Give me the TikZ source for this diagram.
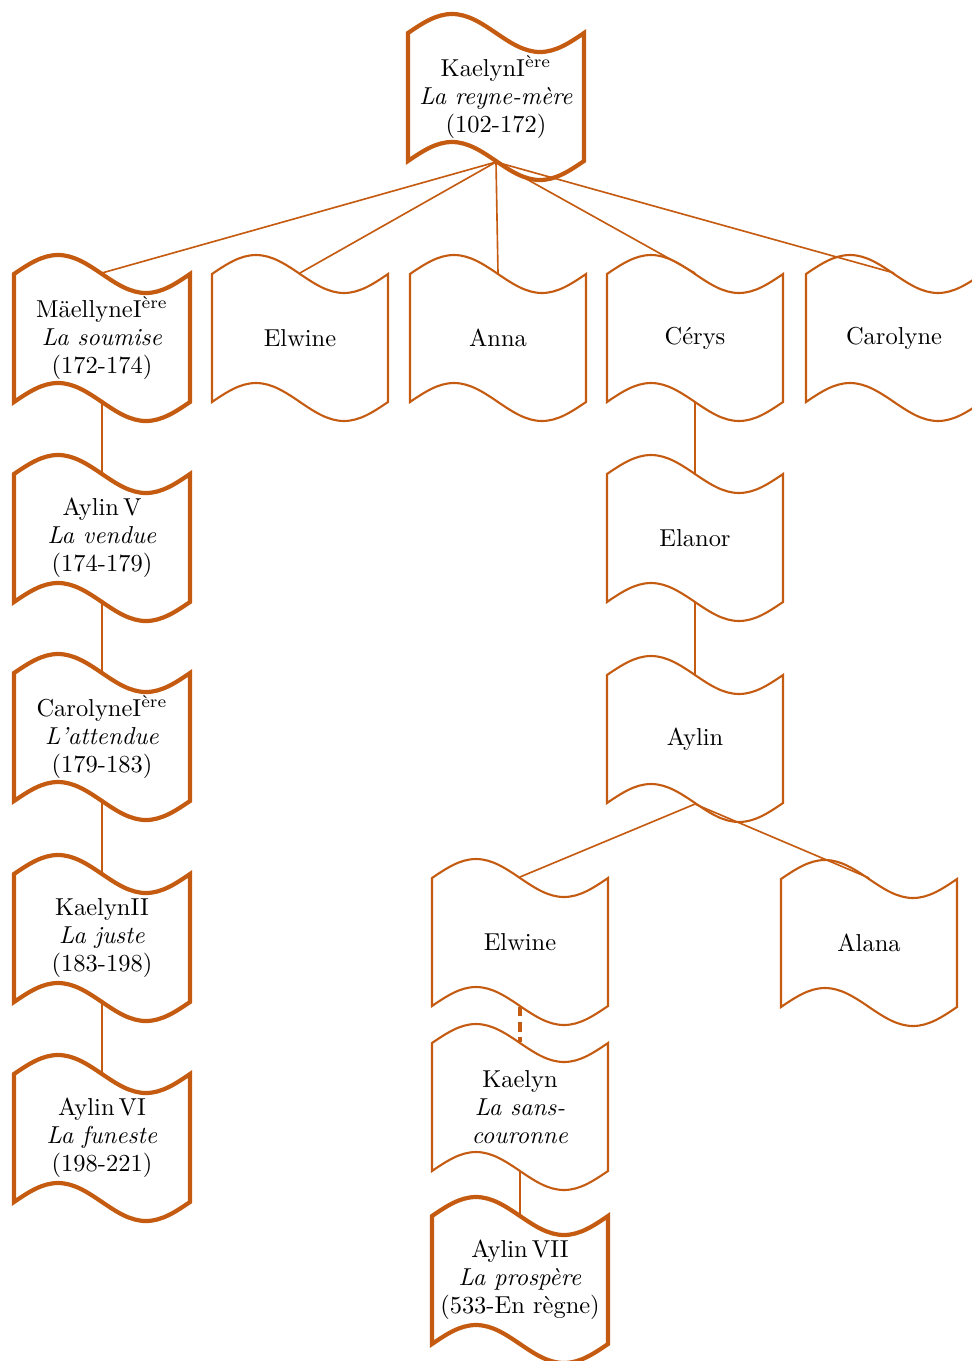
\documentclass[tikz,border=0pt]{standalone}
\usetikzlibrary{calc}
\definecolor{rust}{HTML}{C55A11}
\begin{document}
\begin{tikzpicture}[x=0.429pt,y=-0.429pt,
  wave/.style={draw=rust, line width=#1},
  flagbase/.style={rectangle, align=center, inner sep=1pt,
    minimum width=75.5pt, minimum height=55.4pt,
    font=\fontsize{10.5}{12}\selectfont,
    append after command={\pgfextra{\draw[wave=#1]
      ($(\tikzlastnode.center)+(-88,-64)$) sin ++(44,-19) cos ++(44,19)
        sin ++(44,19) cos ++(44,-19) -- ++(0,128)
        sin ++(-44,19) cos ++(-44,-19) sin ++(-44,-19) cos ++(-44,19) -- cycle;}}},
  flag/.style={flagbase=0.9pt},
  ruler/.style={flagbase=1.8pt},
  link/.style={draw=rust, line width=0.7pt},
  dlink/.style={draw=rust, line width=1.3pt, dash pattern=on 4pt off 2.5pt}]
\useasboundingbox (0,0) rectangle (972,1361);
\node[ruler] (k1) at (496,97) {KaelynI\textsuperscript{ère}\\\textit{La reyne-mère}\\(102-172)};
\node[ruler] (m1) at (102,338) {MäellyneI\textsuperscript{ère}\\\textit{La soumise}\\(172-174)};
\node[flag] (e1) at (300,338) {Elwine};
\node[flag] (an) at (498,338) {Anna};
\node[flag] (ce) at (695,338) {Cérys};
\node[flag] (ca) at (894,338) {Carolyne};
\node[ruler] (a5) at (102,538) {Aylin\,V\\\textit{La vendue}\\(174-179)};
\node[ruler] (c1) at (102,737) {CarolyneI\textsuperscript{ère}\\\textit{L'attendue}\\(179-183)};
\node[ruler] (k2) at (102,938) {KaelynII\\\textit{La juste}\\(183-198)};
\node[ruler] (a6) at (102,1138) {Aylin\,VI\\\textit{La funeste}\\(198-221)};
\node[flag] (el) at (695,538) {Elanor};
\node[flag] (ay) at (695,739) {Aylin};
\node[flag] (e2) at (520,942) {Elwine};
\node[flag] (al) at (869,943) {Alana};
\node[flag] (ky) at (520,1107) {Kaelyn\\\textit{La sans-}\\\textit{couronne}};
\node[ruler] (a7) at (520,1280) {Aylin\,VII\\\textit{La prospère}\\(533-En règne)};
\foreach \c in {m1,e1,an,ce,ca} \draw[link] (k1.south) -- (\c.north);
\draw[link] (m1.south) -- (a5.north);
\draw[link] (a5.south) -- (c1.north);
\draw[link] (c1.south) -- (k2.north);
\draw[link] (k2.south) -- (a6.north);
\draw[link] (ce.south) -- (el.north);
\draw[link] (el.south) -- (ay.north);
\draw[link] (ay.south) -- (e2.north);
\draw[link] (ay.south) -- (al.north);
\draw[dlink] (e2.south) -- (ky.north);
\draw[link] (ky.south) -- (a7.north);
\end{tikzpicture}
\end{document}
